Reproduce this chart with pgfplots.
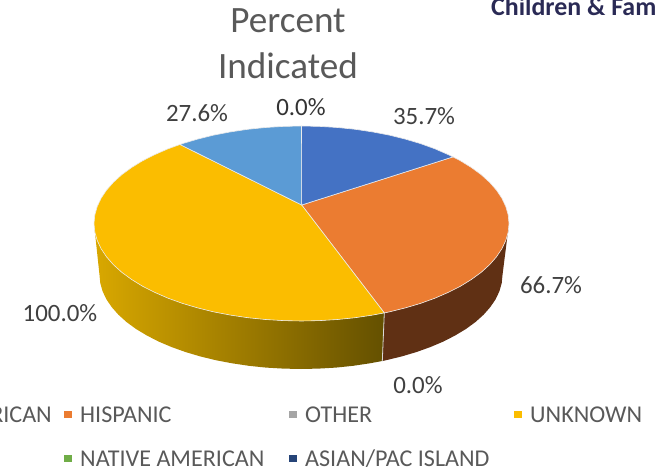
\documentclass[border=0pt]{standalone}
\usepackage{pgfplots}
\pgfplotsset{compat=1.18}
\usepackage{fontspec}
\setmainfont{Carlito}
\definecolor{cblue}{HTML}{4472C4}
\definecolor{corange}{HTML}{EB7C31}
\definecolor{cyellow}{HTML}{FBBD00}
\definecolor{clblue}{HTML}{5B9BD5}
\definecolor{sideL}{HTML}{D9A800}
\definecolor{sideR}{HTML}{645000}
\definecolor{sideO}{HTML}{603014}
\definecolor{cgray}{HTML}{A5A5A5}
\definecolor{cgreen}{HTML}{70AD47}
\definecolor{cnavy}{HTML}{264478}
\definecolor{txt}{HTML}{595959}
\definecolor{val}{HTML}{404040}
\definecolor{logo}{HTML}{2A2A55}
\newcommand{\fs}[1]{\fontsize{#1}{#1}\selectfont}
\begin{document}
\begin{tikzpicture}
\useasboundingbox (0,0) rectangle (655bp,471bp);
\begin{axis}[at={(0,0)},anchor=south west,scale only axis,width=655bp,height=471bp,
  xmin=0,xmax=655,ymin=0,ymax=471,y dir=reverse,axis lines=none,clip=false]
% side: orange
\addplot[fill=sideO,draw=none,no marks] coordinates {
(509.0,223.5)(508.2,232.0)(505.8,240.4)(501.9,248.7)(496.5,256.8)(489.6,264.7)(481.2,272.3)(471.5,279.4)(460.5,286.2)(448.2,292.4)(434.9,298.2)(420.5,303.4)(405.3,307.9)(389.2,311.9)(384.3,312.9)
(382.3,361.0)(386.2,360.2)(401.8,356.4)(416.6,352.0)(430.5,347.0)(443.5,341.5)(455.3,335.4)(466.1,328.9)(475.5,322.0)(483.6,314.7)(490.3,307.1)(495.6,299.3)(499.4,291.3)(501.7,283.2)(502.5,275.0)} -- cycle;
% side: yellow
\addplot[left color=sideL,right color=sideR,draw=none,no marks] coordinates {
(384.3,312.9)(372.5,315.1)(355.2,317.7)(337.5,319.5)(319.6,320.6)(301.5,321.0)(283.4,320.6)(265.5,319.5)(247.8,317.7)(230.5,315.1)(213.8,311.9)(197.7,307.9)(182.5,303.4)(168.1,298.2)(154.8,292.4)(142.5,286.2)(131.5,279.4)(121.8,272.3)(113.4,264.7)(106.5,256.8)(101.1,248.7)(97.2,240.4)(94.8,232.0)(94.0,223.5)
(99.5,275.0)(100.3,283.2)(102.6,291.3)(106.4,299.3)(111.7,307.1)(118.4,314.7)(126.5,322.0)(135.9,328.9)(146.7,335.4)(158.5,341.5)(171.5,347.0)(185.4,352.0)(200.2,356.4)(215.8,360.2)(232.1,363.3)(248.8,365.8)(266.0,367.6)(283.4,368.6)(301.0,369.0)(318.6,368.6)(336.0,367.6)(353.2,365.8)(369.9,363.3)(382.3,361.0)} -- cycle;
% divider on the side
\addplot[draw=white!85!black,line width=0.8pt,no marks] coordinates {(384.3,312.9)(382.3,361.0)};
% top: orange
\addplot[fill=corange,draw=white!92!black,line width=0.6pt,no marks] coordinates {
(301.7,205)(453.0,156.9)(460.5,160.8)(471.5,167.6)(481.2,174.7)(489.6,182.3)(496.5,190.2)(501.9,198.3)(505.8,206.6)(508.2,215.0)(509.0,223.5)(508.2,232.0)(505.8,240.4)(501.9,248.7)(496.5,256.8)(489.6,264.7)(481.2,272.3)(471.5,279.4)(460.5,286.2)(448.2,292.4)(434.9,298.2)(420.5,303.4)(405.3,307.9)(389.2,311.9)(384.3,312.9)} -- cycle;
% top: yellow
\addplot[fill=cyellow,draw=white!92!black,line width=0.6pt,no marks] coordinates {
(301.7,205)(384.3,312.9)(372.5,315.1)(355.2,317.7)(337.5,319.5)(319.6,320.6)(301.5,321.0)(283.4,320.6)(265.5,319.5)(247.8,317.7)(230.5,315.1)(213.8,311.9)(197.7,307.9)(182.5,303.4)(168.1,298.2)(154.8,292.4)(142.5,286.2)(131.5,279.4)(121.8,272.3)(113.4,264.7)(106.5,256.8)(101.1,248.7)(97.2,240.4)(94.8,232.0)(94.0,223.5)(94.8,215.0)(97.2,206.6)(101.1,198.3)(106.5,190.2)(113.4,182.3)(121.8,174.7)(131.5,167.6)(142.5,160.8)(154.8,154.6)(168.1,148.8)(180.0,144.5)} -- cycle;
% top: light blue
\addplot[fill=clblue,draw=white!92!black,line width=0.6pt,no marks] coordinates {
(301.7,205)(180.0,144.5)(182.5,143.6)(197.7,139.1)(213.8,135.1)(230.5,131.9)(247.8,129.3)(265.5,127.5)(283.4,126.4)(301.5,126.0)} -- cycle;
% top: blue
\addplot[fill=cblue,draw=white!92!black,line width=0.6pt,no marks] coordinates {
(301.7,205)(301.5,126.0)(319.6,126.4)(337.5,127.5)(355.2,129.3)(372.5,131.9)(389.2,135.1)(405.3,139.1)(420.5,143.6)(434.9,148.8)(448.2,154.6)(453.0,156.9)} -- cycle;
% legend keys
\addplot[only marks,mark=square*,mark size=3.2bp,color=corange] coordinates {(67.5,414)};
\addplot[only marks,mark=square*,mark size=3.2bp,color=cgray] coordinates {(292.5,414)};
\addplot[only marks,mark=square*,mark size=3.2bp,color=cyellow] coordinates {(517.5,414)};
\addplot[only marks,mark=square*,mark size=3.2bp,color=cgreen] coordinates {(67.5,458)};
\addplot[only marks,mark=square*,mark size=3.2bp,color=cnavy] coordinates {(292.5,458)};
% title
\node[text=txt,font=\fs{37.3}] at (axis cs:288,21) {Percent};
\node[text=txt,font=\fs{37.3}] at (axis cs:288,66) {Indicated};
% corner logo text
\node[text=logo,font=\fs{26}\bfseries,anchor=base west,inner sep=0pt] at (axis cs:491,16) {Children \& Fam};
% data labels
\node[text=val,font=\fs{25}] at (axis cs:197,113) {27.6\%};
\node[text=val!80!black,font=\fs{25}] at (axis cs:301,107) {0.0\%};
\node[text=val,font=\fs{25}] at (axis cs:424,116) {35.7\%};
\node[text=val,font=\fs{25}] at (axis cs:551,285) {66.7\%};
\node[text=val,font=\fs{25}] at (axis cs:60,313) {100.0\%};
\node[text=val,font=\fs{25}] at (axis cs:418,385) {0.0\%};
% legend text
\node[text=txt,font=\fs{24.2},anchor=base east,inner sep=0pt] at (axis cs:52,422) {RICAN};
\node[text=txt,font=\fs{24.2},anchor=base west,inner sep=0pt] at (axis cs:80,422) {HISPANIC};
\node[text=txt,font=\fs{24.2},anchor=base west,inner sep=0pt] at (axis cs:305,422) {OTHER};
\node[text=txt,font=\fs{24.2},anchor=base west,inner sep=0pt] at (axis cs:530,422) {UNKNOWN};
\node[text=txt,font=\fs{24.2},anchor=base west,inner sep=0pt] at (axis cs:80,466) {NATIVE AMERICAN};
\node[text=txt,font=\fs{24.2},anchor=base west,inner sep=0pt] at (axis cs:305,466) {ASIAN/PAC ISLAND};
\end{axis}
\end{tikzpicture}
\end{document}
